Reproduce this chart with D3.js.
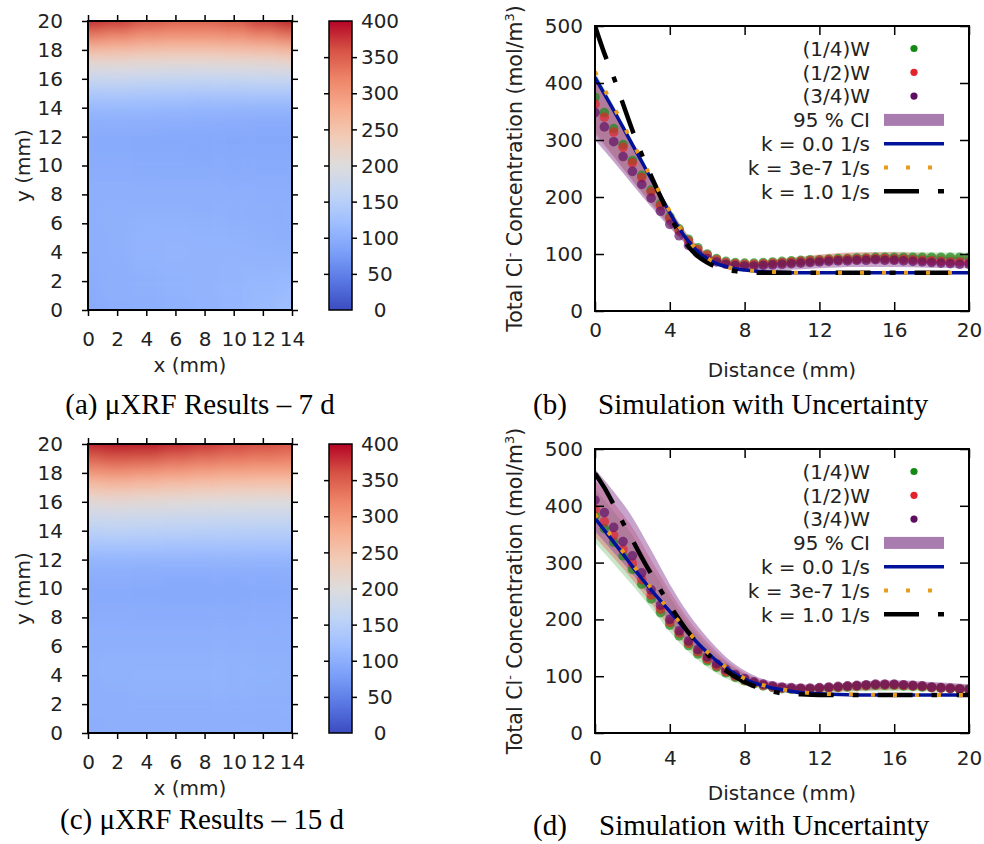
<!DOCTYPE html>
<html>
<head>
<meta charset="utf-8">
<script src="https://cdn.jsdelivr.net/npm/d3@7"></script>
<style>
  body { margin: 0; background: #fff; }
  svg text { font-family: "DejaVu Sans", Verdana, sans-serif; }
  .caption { font-family: "Liberation Serif", "Times New Roman", serif; font-size: 29px; }
</style>
</head>
<body>
<svg id="fig" width="984" height="844"></svg>
<script>
// ---- heat map data (uXRF, mol/m3), rows from y = 20 mm down to 0 mm ----
var heatX = [0, 2, 4, 6, 8, 10, 12, 14];
var heatY = [20, 19, 18, 17, 16, 15, 14, 13, 12, 11, 10, 9, 8, 7, 6, 5, 4, 3, 2, 1, 0];
var heatXTicks = [0, 2, 4, 6, 8, 10, 12, 14];
var heatYTicks = [0, 2, 4, 6, 8, 10, 12, 14, 16, 18, 20];
var colorTicks = [0, 50, 100, 150, 200, 250, 300, 350, 400];

var heat7d = [
  [392, 380, 362, 352, 352, 360, 378, 398],
  [330, 322, 310, 305, 305, 310, 322, 335],
  [262, 260, 255, 252, 252, 255, 258, 265],
  [208, 208, 205, 204, 204, 205, 207, 210],
  [170, 172, 168, 166, 165, 166, 168, 170],
  [138, 140, 138, 136, 135, 135, 136, 136],
  [114, 115, 113, 112, 110, 109, 109, 109],
  [100, 101, 100, 99, 98, 97, 96, 96],
  [95, 95, 94, 93, 93, 92, 92, 92],
  [95, 95, 94, 94, 93, 93, 93, 93],
  [97, 97, 96, 95, 95, 95, 95, 95],
  [99, 99, 98, 98, 98, 97, 97, 97],
  [101, 101, 101, 101, 100, 100, 99, 99],
  [102, 103, 103, 103, 102, 102, 101, 101],
  [102, 103, 105, 105, 104, 103, 102, 101],
  [101, 103, 106, 107, 106, 105, 103, 102],
  [100, 103, 107, 108, 107, 107, 105, 105],
  [99, 102, 105, 107, 107, 108, 108, 109],
  [98, 101, 103, 105, 107, 109, 111, 113],
  [97, 100, 102, 104, 107, 110, 114, 118],
  [96, 99, 101, 103, 106, 110, 116, 123]
];

var heat15d = [
  [395, 405, 400, 390, 380, 370, 365, 360],
  [350, 358, 355, 345, 338, 332, 328, 325],
  [302, 306, 302, 295, 290, 286, 284, 284],
  [252, 256, 252, 247, 244, 241, 240, 240],
  [206, 209, 206, 203, 201, 200, 199, 199],
  [178, 180, 178, 176, 175, 174, 174, 174],
  [154, 156, 154, 153, 152, 151, 151, 151],
  [130, 131, 130, 129, 128, 128, 128, 128],
  [109, 110, 109, 108, 108, 108, 108, 108],
  [99, 99, 98, 97, 97, 97, 97, 98],
  [95, 95, 94, 93, 93, 93, 94, 95],
  [96, 96, 95, 95, 95, 95, 96, 97],
  [98, 98, 97, 97, 97, 97, 98, 99],
  [100, 100, 100, 100, 100, 100, 100, 101],
  [102, 102, 102, 102, 102, 102, 102, 102],
  [103, 104, 104, 104, 104, 104, 103, 103],
  [103, 104, 105, 105, 105, 104, 104, 103],
  [102, 103, 104, 104, 104, 104, 103, 103],
  [100, 101, 102, 102, 102, 102, 102, 102],
  [99, 100, 101, 101, 101, 101, 101, 102],
  [99, 100, 101, 101, 101, 102, 102, 103]
];

// coolwarm colour map
var coolwarmStops = ["#3b4cc0", "#5977e3", "#7b9ff9", "#9ebeff", "#c0d4f5", "#dddcdc",
                     "#f2cbb7", "#f7ac8e", "#ee8468", "#d65244", "#b40426"];

// ---- profile data (total Cl-, mol/m3 vs distance, mm) ----
var distPts = [0, 0.5, 1, 1.5, 2, 2.5, 3, 3.5, 4, 4.5, 5, 5.5, 6, 6.5, 7, 7.5, 8, 8.5, 9, 9.5, 10,
               10.5, 11, 11.5, 12, 12.5, 13, 13.5, 14, 14.5, 15, 15.5, 16, 16.5, 17, 17.5, 18, 18.5, 19, 19.5, 20];

var q1W_7d = [375, 348, 320, 292, 264, 238, 212, 188, 165, 144, 126, 111, 100, 92, 87, 85, 84, 84, 85, 86, 87,
              88, 89, 90, 90, 91, 92, 92, 93, 93, 94, 94, 94, 94, 94, 94, 94, 94, 94, 94, 94];
var q2W_7d = [363, 340, 314, 287, 260, 234, 209, 185, 162, 141, 123, 108, 98, 90, 85, 83, 82, 82, 83, 84, 85,
              86, 87, 88, 89, 90, 90, 91, 91, 92, 92, 92, 91, 91, 90, 89, 88, 87, 86, 86, 85];
var q3W_7d = [348, 323, 297, 271, 245, 222, 198, 175, 152, 132, 115, 101, 92, 86, 82, 80, 79, 79, 80, 81, 82,
              83, 84, 85, 86, 87, 88, 88, 89, 89, 90, 89, 89, 88, 87, 86, 85, 84, 83, 82, 82];

var q1W_15d = [382, 360, 336, 312, 288, 262, 236, 212, 190, 171, 154, 139, 127, 116, 106, 98, 92, 87, 83, 80, 78,
               77, 77, 77, 78, 79, 80, 81, 82, 83, 84, 84, 84, 83, 82, 81, 80, 79, 78, 77, 77];
var q2W_15d = [394, 372, 348, 323, 298, 270, 243, 218, 195, 176, 158, 143, 130, 118, 108, 100, 93, 88, 84, 81, 79,
               78, 78, 78, 79, 80, 81, 82, 83, 84, 85, 85, 85, 84, 83, 82, 80, 79, 78, 77, 76];
var q3W_15d = [410, 388, 362, 337, 312, 282, 252, 225, 200, 180, 162, 147, 134, 122, 112, 103, 96, 90, 86, 83, 81,
               80, 79, 79, 80, 81, 82, 83, 84, 85, 86, 86, 86, 85, 84, 83, 81, 80, 79, 78, 77];

// 95 % confidence bands
var bandX = [0, 1, 2, 3, 4, 5, 6, 7, 8, 10, 12, 14, 16, 18, 20];
var ciLo1_7d = [315, 272, 230, 189, 150, 116, 91, 78, 73, 76, 80, 84, 85, 84, 84];
var ciHi1_7d = [420, 360, 298, 238, 181, 132, 100, 87, 84, 91, 98, 102, 104, 103, 102];
var ciLo2_7d = [310, 270, 228, 188, 150, 116, 92, 79, 74, 76, 80, 83, 83, 81, 80];
var ciHi2_7d = [412, 354, 294, 236, 180, 132, 101, 88, 85, 92, 99, 103, 103, 100, 97];
var ciLo3_7d = [300, 262, 222, 183, 146, 113, 89, 76, 71, 72, 75, 77, 77, 76, 75];
var ciHi3_7d = [405, 350, 290, 232, 176, 128, 98, 85, 81, 86, 93, 98, 99, 96, 93];

var ciLo1_15d = [335, 298, 260, 220, 178, 143, 116, 96, 84, 74, 72, 73, 74, 73, 72];
var ciHi1_15d = [430, 390, 348, 292, 240, 192, 154, 124, 104, 85, 82, 85, 88, 87, 84];
var ciLo2_15d = [345, 308, 270, 228, 186, 150, 122, 101, 88, 76, 73, 74, 76, 75, 73];
var ciHi2_15d = [445, 405, 362, 305, 250, 200, 160, 128, 106, 86, 83, 87, 90, 88, 84];
var ciLo3_15d = [355, 318, 280, 238, 196, 160, 130, 107, 92, 77, 74, 76, 78, 77, 74];
var ciHi3_15d = [465, 425, 380, 322, 262, 210, 168, 134, 110, 88, 85, 90, 93, 90, 86];

// simulated profiles
var lineX = [0, 0.5, 1, 1.5, 2, 2.5, 3, 3.5, 4, 4.5, 5, 5.5, 6, 6.5, 7, 7.5, 8, 9, 10, 11, 12, 14, 16, 18, 20];
var k0_7d   = [410, 381, 352, 322, 292, 262, 232, 202, 172, 145, 122, 104, 92, 83, 78, 74, 72, 69, 68, 67, 67, 67, 67, 67, 67];
var k3e7_7d = [420, 389, 358, 327, 296, 265, 235, 205, 175, 148, 124, 106, 93, 84, 78, 74, 72, 69, 68, 67, 67, 67, 67, 67, 67];
var k1_7d   = [500, 452, 410, 363, 317, 275, 237, 201, 167, 137, 113, 96, 85, 77, 72, 70, 68, 67, 67, 67, 67, 67, 67, 67, 67];
var k0_15d   = [378, 357, 336, 315, 293, 272, 252, 233, 214, 195, 176, 158, 142, 127, 115, 104, 95, 83, 76, 71, 69, 67, 67, 67, 67];
var k3e7_15d = [385, 363, 341, 319, 297, 276, 255, 235, 215, 196, 177, 159, 143, 128, 116, 105, 96, 84, 77, 72, 69, 68, 67, 67, 67];
var k1_15d   = [457, 432, 402, 370, 340, 309, 280, 252, 225, 200, 177, 157, 139, 123, 110, 99, 90, 77, 70, 68, 67, 67, 67, 67, 67];

var distTicks = [0, 4, 8, 12, 16, 20];
var concTicks = [0, 100, 200, 300, 400, 500];
var legendLabels = ["(1/4)W", "(1/2)W", "(3/4)W", "95 % CI", "k = 0.0 1/s", "k = 3e-7 1/s", "k = 1.0 1/s"];
var pointColors = ["#148a14", "#e3222a", "#5e0d63"];
var bandColors = ["#4daf4a", "#e8464e", "#8e4a9a"];
var bandOpacity = [0.3, 0.35, 0.5];


var svg = d3.select("#fig");
var defs = svg.append("defs");

var cw = d3.scaleLinear()
    .domain(coolwarmStops.map(function(c, i) { return 400 * i / (coolwarmStops.length - 1); }))
    .range(coolwarmStops)
    .clamp(true);

// gradient for the colour bar
var grad = defs.append("linearGradient")
    .attr("id", "cwgrad")
    .attr("x1", 0).attr("y1", 1).attr("x2", 0).attr("y2", 0);
grad.selectAll("stop")
    .data(coolwarmStops)
    .enter().append("stop")
    .attr("offset", function(d, i) { return i / (coolwarmStops.length - 1); })
    .attr("stop-color", function(d) { return d; });

defs.append("filter")
    .attr("id", "soft")
    .attr("x", "-20%").attr("y", "-20%").attr("width", "140%").attr("height", "140%")
  .append("feGaussianBlur")
    .attr("stdDeviation", "6 7");

function styleAxis(g, size) {
    g.attr("font-size", size)
     .attr("font-family", "DejaVu Sans, Verdana, sans-serif");
    g.select(".domain").remove();
    g.selectAll("line").attr("stroke", "#000").attr("stroke-width", 1.5);
    g.selectAll("text").attr("fill", "#222");
}

function drawHeatmap(top, grid, id) {
    var left = 88, width = 204, height = 289;

    var x = d3.scaleLinear().domain([0, 14]).range([0, width]);
    var y = d3.scaleLinear().domain([0, 20]).range([height, 0]);

    var g = svg.append("g")
        .attr("transform", "translate(" + left + "," + top + ")");

    defs.append("clipPath").attr("id", "clip" + id)
      .append("rect").attr("width", width).attr("height", height);

    var cells = [];
    grid.forEach(function(row, j) {
        row.forEach(function(v, i) {
            cells.push({i: i, j: j, x: heatX[i], y: heatY[j], v: v});
        });
    });
    var lastI = heatX.length - 1, lastJ = heatY.length - 1;

    // cells, blurred a little to look like the interpolated map
    g.append("g")
        .attr("clip-path", "url(#clip" + id + ")")
      .append("g")
        .attr("filter", "url(#soft)")
      .selectAll("rect")
        .data(cells)
        .enter().append("rect")
        .attr("x", function(d) { return x(d.i == 0 ? -3 : d.x - 1); })
        .attr("width", function(d) {
            var x0 = d.i == 0 ? -3 : d.x - 1, x1 = d.i == lastI ? 17 : d.x + 1;
            return x(x1) - x(x0) + 0.5; })
        .attr("y", function(d) { return y(d.j == 0 ? 23 : d.y + 0.5); })
        .attr("height", function(d) {
            var y0 = d.j == 0 ? 23 : d.y + 0.5, y1 = d.j == lastJ ? -3 : d.y - 0.5;
            return y(y1) - y(y0) + 0.5; })
        .attr("fill", function(d) { return cw(d.v); });

    // axes, ticks outward on all four sides
    g.append("g")
        .call(d3.axisLeft(y).tickValues(heatYTicks).tickSize(6).tickPadding(19))
        .call(styleAxis, 20);
    g.append("g")
        .attr("transform", "translate(0," + height + ")")
        .call(d3.axisBottom(x).tickValues(heatXTicks).tickSize(6).tickPadding(16))
        .call(styleAxis, 20);
    g.append("g")
        .call(d3.axisTop(x).tickValues(heatXTicks).tickSize(6).tickFormat(""))
        .call(styleAxis, 20);
    g.append("g")
        .attr("transform", "translate(" + width + ",0)")
        .call(d3.axisRight(y).tickValues(heatYTicks).tickSize(6).tickFormat(""))
        .call(styleAxis, 20);

    g.append("rect")
        .attr("width", width).attr("height", height)
        .attr("fill", "none").attr("stroke", "#000").attr("stroke-width", 2);

    g.append("text")
        .attr("transform", "rotate(-90)")
        .attr("x", -height / 2)
        .attr("y", -58)
        .attr("text-anchor", "middle")
        .attr("font-size", 20)
        .attr("fill", "#222")
        .text("y (mm)");

    g.append("text")
        .attr("x", width / 2)
        .attr("y", height + 62)
        .attr("text-anchor", "middle")
        .attr("font-size", 20)
        .attr("fill", "#222")
        .text("x (mm)");

    // colour bar
    var cb = svg.append("g")
        .attr("transform", "translate(329," + top + ")");
    var c = d3.scaleLinear().domain([0, 400]).range([height, 0]);

    cb.append("rect")
        .attr("width", 23).attr("height", height)
        .attr("fill", "url(#cwgrad)")
        .attr("stroke", "#000").attr("stroke-width", 1.5);

    cb.append("g")
        .call(d3.axisLeft(c).tickValues(colorTicks.slice(1, -1)).tickSize(5).tickFormat(""))
        .call(styleAxis, 20);
    cb.append("g")
        .attr("transform", "translate(23,0)")
        .call(d3.axisRight(c).tickValues(colorTicks.slice(1, -1)).tickSize(5).tickFormat(""))
        .call(styleAxis, 20);

    cb.selectAll(".clabel")
        .data(colorTicks)
        .enter().append("text")
        .attr("class", "clabel")
        .attr("x", 51)
        .attr("y", function(d) { return c(d); })
        .attr("dy", "0.36em")
        .attr("text-anchor", "middle")
        .attr("font-size", 20)
        .attr("fill", "#222")
        .text(function(d) { return d; });
}

function drawProfile(top, height, cfg, id) {
    var left = 595, width = 374;

    var x = d3.scaleLinear().domain([0, 20]).range([0, width]);
    var y = d3.scaleLinear().domain([0, 500]).range([height, 0]);

    var g = svg.append("g")
        .attr("transform", "translate(" + left + "," + top + ")");

    defs.append("clipPath").attr("id", "pclip" + id)
      .append("rect").attr("width", width).attr("height", height);

    var plot = g.append("g").attr("clip-path", "url(#pclip" + id + ")");

    // confidence bands
    cfg.bands.forEach(function(b, k) {
        var area = d3.area()
            .x(function(d, i) { return x(bandX[i]); })
            .y0(function(d, i) { return y(b[0][i]); })
            .y1(function(d, i) { return y(b[1][i]); })
            .curve(d3.curveMonotoneX);
        plot.append("path")
            .datum(bandX)
            .attr("d", area)
            .attr("fill", bandColors[k])
            .attr("fill-opacity", bandOpacity[k]);
    });

    // measured points
    cfg.points.forEach(function(p, k) {
        plot.append("g").selectAll("circle")
            .data(p)
            .enter().append("circle")
            .attr("cx", function(d, i) { return x(distPts[i]); })
            .attr("cy", function(d) { return y(d); })
            .attr("r", 4.8)
            .attr("fill", pointColors[k])
            .attr("fill-opacity", 0.68);
    });

    // simulations
    var line = function(vals) {
        return d3.line()
            .x(function(d, i) { return x(lineX[i]); })
            .y(function(d) { return y(d); })
            .curve(d3.curveMonotoneX)(vals);
    };
    plot.append("path").attr("d", line(cfg.k0))
        .attr("fill", "none").attr("stroke", "#00129a").attr("stroke-width", 3.5);
    plot.append("path").attr("d", line(cfg.k1))
        .attr("fill", "none").attr("stroke", "#000").attr("stroke-width", 4.5)
        .attr("stroke-dasharray", "35,19,6,19");
    plot.append("path").attr("d", line(cfg.k3e7))
        .attr("fill", "none").attr("stroke", "#e89b1c").attr("stroke-width", 4)
        .attr("stroke-dasharray", "4,18");

    // axes, ticks inward
    g.append("g")
        .call(d3.axisLeft(y).tickValues(concTicks).tickSize(-9).tickPadding(12))
        .call(styleAxis, 20);
    g.append("g")
        .attr("transform", "translate(0," + height + ")")
        .call(d3.axisBottom(x).tickValues(distTicks).tickSize(-9).tickPadding(cfg.xPad))
        .call(styleAxis, 20);
    g.append("g")
        .call(d3.axisTop(x).tickValues(distTicks).tickSize(-9).tickFormat(""))
        .call(styleAxis, 20);
    g.append("g")
        .attr("transform", "translate(" + width + ",0)")
        .call(d3.axisRight(y).tickValues(concTicks).tickSize(-9).tickFormat(""))
        .call(styleAxis, 20);

    g.append("rect")
        .attr("width", width).attr("height", height)
        .attr("fill", "none").attr("stroke", "#000").attr("stroke-width", 2);

    var yl = g.append("text")
        .attr("transform", "rotate(-90)")
        .attr("x", -height / 2)
        .attr("y", -73)
        .attr("text-anchor", "middle")
        .attr("font-size", 20.5)
        .attr("fill", "#222");
    yl.append("tspan").text("Total Cl");
    yl.append("tspan").attr("font-size", 13).attr("dy", -8).text("-");
    yl.append("tspan").attr("dy", 8).text(" Concentration (mol/m");
    yl.append("tspan").attr("font-size", 13).attr("dy", -8).text("3");
    yl.append("tspan").attr("dy", 8).text(")");

    g.append("text")
        .attr("x", width / 2)
        .attr("y", cfg.xTitleY)
        .attr("text-anchor", "middle")
        .attr("font-size", 20)
        .attr("fill", "#222")
        .text("Distance (mm)");

    // legend
    var rowY = function(i) { return 22.5 + i * 23.8; };
    var lg = g.append("g");
    lg.selectAll("text")
        .data(legendLabels)
        .enter().append("text")
        .attr("x", 275)
        .attr("y", function(d, i) { return rowY(i); })
        .attr("dy", "0.36em")
        .attr("text-anchor", "end")
        .attr("font-size", 20)
        .attr("fill", "#222")
        .text(function(d) { return d; });
    pointColors.forEach(function(col, i) {
        lg.append("circle").attr("cx", 319).attr("cy", rowY(i)).attr("r", 3.6).attr("fill", col);
    });
    lg.append("rect").attr("x", 289).attr("y", rowY(3) - 6).attr("width", 60).attr("height", 12)
        .attr("fill", "#a87caf");
    lg.append("line").attr("x1", 289).attr("x2", 349).attr("y1", rowY(4)).attr("y2", rowY(4))
        .attr("stroke", "#00129a").attr("stroke-width", 3.5);
    lg.append("line").attr("x1", 289).attr("x2", 349).attr("y1", rowY(5)).attr("y2", rowY(5))
        .attr("stroke", "#e89b1c").attr("stroke-width", 4).attr("stroke-dasharray", "4,18");
    lg.append("line").attr("x1", 289).attr("x2", 349).attr("y1", rowY(6)).attr("y2", rowY(6))
        .attr("stroke", "#000").attr("stroke-width", 4.5).attr("stroke-dasharray", "35,19,6,19");
}

function caption(x, y, text, anchor) {
    svg.append("text")
        .attr("class", "caption")
        .attr("x", x).attr("y", y)
        .attr("text-anchor", anchor)
        .attr("fill", "#000")
        .text(text);
}

drawHeatmap(21, heat7d, "a");
drawHeatmap(444, heat15d, "c");

drawProfile(26, 285, {
    bands: [[ciLo1_7d, ciHi1_7d], [ciLo2_7d, ciHi2_7d], [ciLo3_7d, ciHi3_7d]],
    points: [q1W_7d, q2W_7d, q3W_7d],
    k0: k0_7d, k3e7: k3e7_7d, k1: k1_7d,
    xPad: 12, xTitleY: 351
}, "b");
drawProfile(449, 284, {
    bands: [[ciLo1_15d, ciHi1_15d], [ciLo2_15d, ciHi2_15d], [ciLo3_15d, ciHi3_15d]],
    points: [q1W_15d, q2W_15d, q3W_15d],
    k0: k0_15d, k3e7: k3e7_15d, k1: k1_15d,
    xPad: 18, xTitleY: 351
}, "d");

caption(200, 414, "(a) \u03bcXRF Results \u2013 7 d", "middle");
caption(202, 829, "(c) \u03bcXRF Results \u2013 15 d", "middle");
caption(533, 414, "(b)", "start");
caption(598, 414, "Simulation with Uncertainty", "start");
caption(533, 835, "(d)", "start");
caption(599, 835, "Simulation with Uncertainty", "start");
</script>
</body>
</html>
